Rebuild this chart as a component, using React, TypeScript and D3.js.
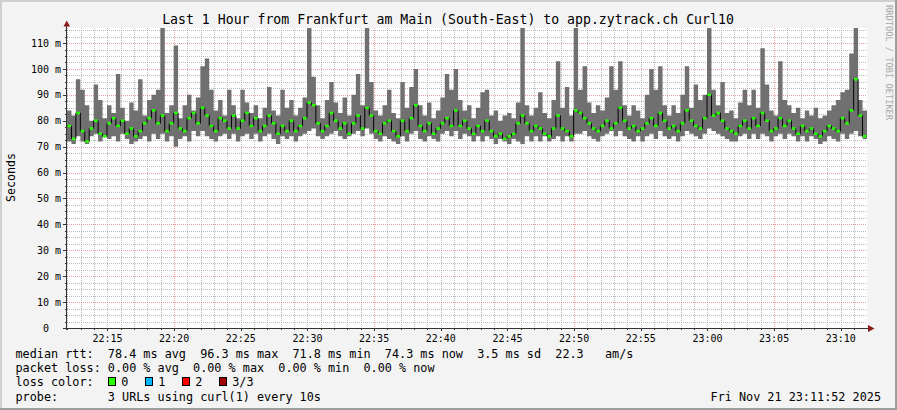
import React from "react";
import * as d3 from "d3";

const TITLE = "Last 1 Hour from Frankfurt am Main (South-East) to app.zytrack.ch Curl10";
const WATERMARK = "RRDTOOL / TOBI OETIKER";
const Y_TITLE = "Seconds";
const START = new Date(2025, 10, 21, 22, 11, 58);
const END = new Date(2025, 10, 21, 23, 11, 58);
const STEP_SECONDS = 20;
const Y_MAX_MS = 115.8;
const yMajorTicks = [0, 10, 20, 30, 40, 50, 60, 70, 80, 90, 100, 110];

// smoke upper edge (ms), one value per 20 s step
const smokeHigh = [
  84, 82, 96, 92, 86, 80, 94, 88, 81, 86,
  83, 98, 85, 80, 87, 84, 96, 82, 88, 90,
  92, 116, 83, 86, 109, 81, 86, 90, 84, 89,
  101, 104, 92, 84, 88, 82, 92, 86, 81, 92,
  87, 83, 86, 81, 85, 93, 84, 82, 92, 85,
  88, 82, 85, 89, 116, 97, 86, 81, 88, 95,
  87, 83, 89, 82, 90, 98, 86, 116, 95, 84,
  82, 86, 92, 83, 81, 95, 85, 93, 100, 86,
  82, 87, 81, 84, 89, 98, 92, 100, 88, 84,
  86, 81, 85, 91, 92, 82, 84, 80, 82, 83,
  81, 87, 116, 86, 82, 85, 91, 83, 81, 88,
  103, 85, 93, 82, 116, 92, 101, 87, 83, 86,
  84, 89, 101, 92, 103, 86, 82, 86, 84, 81,
  90, 100, 92, 101, 86, 82, 86, 83, 90, 101,
  85, 94, 88, 90, 116, 92, 86, 95, 83, 84,
  81, 87, 92, 86, 92, 85, 108, 94, 84, 82,
  103, 88, 86, 83, 85, 81, 84, 82, 85, 81,
  82, 84, 86, 88, 91, 92, 106, 116, 88, 84,
];

// smoke lower edge (ms)
const smokeLow = [
  72, 71, 74, 72, 71, 74, 75, 72, 74, 73,
  74, 72, 75, 73, 71, 72, 73, 74, 72, 75,
  73, 75, 72, 74, 70, 73, 74, 72, 76, 74,
  76, 74, 73, 72, 74, 75, 73, 75, 72, 74,
  75, 73, 75, 72, 74, 75, 73, 71, 74, 73,
  74, 72, 74, 75, 76, 77, 74, 73, 74, 75,
  76, 74, 73, 74, 75, 76, 74, 77, 75, 73,
  72, 74, 73, 72, 71, 74, 72, 75, 76, 73,
  72, 74, 73, 72, 75, 76, 74, 76, 73, 75,
  74, 72, 74, 72, 74, 73, 71, 73, 72, 71,
  73, 72, 71, 74, 72, 74, 72, 74, 72, 73,
  74, 72, 74, 72, 75, 75, 76, 74, 73, 72,
  74, 75, 76, 74, 76, 74, 73, 72, 74, 72,
  74, 75, 73, 76, 74, 73, 74, 72, 74, 76,
  75, 74, 73, 75, 77, 76, 75, 74, 73, 72,
  72, 74, 75, 73, 75, 73, 75, 74, 72, 74,
  75, 73, 75, 74, 72, 74, 72, 74, 73, 71,
  72, 74, 73, 72, 75, 73, 75, 76, 74, 73,
];

// median rtt (ms)
const medianRtt = [
  78, 73, 83, 76, 72, 77, 80, 75, 74, 79,
  81, 78, 80, 75, 77, 74, 76, 79, 81, 84,
  79, 82, 76, 79, 83, 77, 76, 81, 83, 79,
  85, 82, 78, 76, 81, 80, 77, 82, 77, 80,
  83, 78, 81, 76, 78, 82, 79, 75, 78, 76,
  80, 76, 78, 81, 87, 86, 79, 76, 78, 83,
  80, 77, 79, 75, 79, 82, 77, 85, 82, 76,
  75, 79, 80, 76, 74, 80, 76, 81, 86, 78,
  76, 79, 75, 77, 79, 81, 78, 84, 78, 80,
  77, 75, 78, 76, 80, 76, 74, 75, 73, 74,
  75, 79, 82, 79, 76, 78, 77, 75, 74, 77,
  82, 77, 76, 74, 84, 83, 81, 79, 77, 76,
  78, 80, 77, 79, 85, 80, 77, 78, 76, 77,
  79, 81, 78, 83, 80, 77, 78, 76, 79, 84,
  80, 78, 77, 81, 90, 82, 83, 80, 77, 76,
  75, 78, 80, 77, 81, 78, 83, 80, 76, 77,
  81, 78, 80, 77, 75, 78, 76, 77, 75, 74,
  76, 78, 77, 76, 81, 79, 84, 96, 82, 74,
];

const rttStats = ["78.4 ms avg", "96.3 ms max", "71.8 ms min", "74.3 ms now", "3.5 ms sd", "22.3   am/s"];
const lossStats = ["0.00 % avg", "0.00 % max", "0.00 % min", "0.00 % now"];
const lossLabels = ["0", "1", "2", "3/3"];
const lossColors = ["#26ff00", "#00b8ff", "#ff0000", "#a00000"];
const PROBE_TEXT = "3 URLs using curl(1) every 10s";
const TIMESTAMP = "Fri Nov 21 23:11:52 2025";

const W = 897;
const H = 410;
const L = 67, R = 867, T = 28, B = 328;
const MONO = "'DejaVu Sans Mono', monospace";
const nb = (s: string) => s.replace(/ /g, "\u00A0");

export default function App() {
  const x = d3.scaleTime().domain([START, END]).range([L, R]);
  const y = d3.scaleLinear().domain([0, Y_MAX_MS]).range([B, T]);

  const times = medianRtt.map((_, i) => new Date(START.getTime() + i * STEP_SECONDS * 1000));
  const endT = new Date(START.getTime() + medianRtt.length * STEP_SECONDS * 1000);
  const pts = medianRtt.map((m, i) => ({ t: times[i], lo: smokeLow[i], hi: smokeHigh[i], m }));
  const ptsExt = [...pts, { ...pts[pts.length - 1], t: endT }];

  const area = d3
    .area<any>()
    .x((d) => x(d.t))
    .y0((d) => y(d.lo))
    .y1((d) => y(d.hi))
    .curve(d3.curveStepAfter);
  const line = d3
    .line<any>()
    .x((d) => x(d.t))
    .y((d) => y(d.m))
    .curve(d3.curveStepAfter);

  const minorH = d3.range(0, Y_MAX_MS, 2.5).filter((v) => v % 10 !== 0);
  const majorH = yMajorTicks.filter((v) => v > 0);
  const minutes = d3.timeMinute.range(START, END);
  const labelTimes = d3.timeMinute.every(5)!.range(START, END);
  const fmt = d3.timeFormat("%H:%M");
  const px = (v: number) => Math.round(v) + 0.5;

  const gridGray = "rgba(143,143,143,0.6)";
  const gridRed = "rgba(222,80,80,0.55)";
  const axisColor = "#333";
  const arrowColor = "#8b1a1a";
  const legendFont = 11.8;
  const charW = legendFont * 0.602;
  const legendX = 15.5;

  return (
    <div style={{ position: "absolute", left: 0, top: 0 }}>
      <svg width={W} height={H} viewBox={`0 0 ${W} ${H}`} style={{ display: "block" }}>
        <defs>
          <clipPath id="plotclip">
            <rect x={L} y={T} width={R - L} height={B - T} />
          </clipPath>
        </defs>
        <rect x={0} y={0} width={W} height={H} fill="#f3f3f3" />
        {/* frame shades */}
        <rect x={0} y={0} width={W} height={2} fill="#cfcfcf" />
        <rect x={0} y={0} width={2} height={H} fill="#cfcfcf" />
        <rect x={0} y={H - 2} width={W} height={2} fill="#9e9e9e" />
        <rect x={W - 2} y={0} width={2} height={H} fill="#9e9e9e" />

        {/* canvas */}
        <rect x={L} y={T} width={R - L} height={B - T} fill="#ffffff" />

        {/* grid */}
        <g shapeRendering="crispEdges" strokeDasharray="1,1" strokeWidth={1}>
          {minorH.map((v) => (
            <line key={"mh" + v} x1={L} x2={R} y1={px(y(v))} y2={px(y(v))} stroke={gridGray} />
          ))}
          {minutes.map((t) => {
            const isMajor = t.getMinutes() % 15 === 5;
            return (
              <line
                key={"v" + t.getTime()}
                x1={px(x(t))}
                x2={px(x(t))}
                y1={T}
                y2={B}
                stroke={isMajor ? gridRed : gridGray}
              />
            );
          })}
          {majorH.map((v) => (
            <line key={"Mh" + v} x1={L} x2={R} y1={px(y(v))} y2={px(y(v))} stroke={gridRed} />
          ))}
        </g>

        {/* data */}
        <g clipPath="url(#plotclip)">
          <path d={area(ptsExt) || ""} fill="#707070" />
          <path d={line(ptsExt) || ""} fill="none" stroke="#000" strokeWidth={1} />
          {pts.map((d, i) => {
            const x0 = x(d.t);
            const x1 = x(ptsExt[i + 1].t);
            return (
              <rect key={i} x={x0 + 0.4} y={y(d.m) - 1.3} width={x1 - x0 - 0.8} height={2.6} fill="#26ff00" />
            );
          })}
        </g>

        {/* ticks */}
        <g shapeRendering="crispEdges" stroke={axisColor} strokeWidth={1}>
          {minorH.map((v) => (
            <line key={"tm" + v} x1={65} x2={L} y1={px(y(v))} y2={px(y(v))} />
          ))}
          {yMajorTicks.map((v) => (
            <line key={"tM" + v} x1={63} x2={L} y1={px(y(v))} y2={px(y(v))} />
          ))}
          {minutes.map((t) => (
            <line key={"xt" + t.getTime()} x1={px(x(t))} x2={px(x(t))} y1={B} y2={B + 2} />
          ))}
          {labelTimes.map((t) => (
            <line key={"xT" + t.getTime()} x1={px(x(t))} x2={px(x(t))} y1={B} y2={B + 3} />
          ))}
        </g>

        {/* axes */}
        <g shapeRendering="crispEdges">
          <line x1={66.5} x2={66.5} y1={24} y2={B + 2} stroke={axisColor} />
          <line x1={63} x2={870} y1={328.5} y2={328.5} stroke={axisColor} />
        </g>
        <path d="M63.5,26.5 L70,26.5 L66.75,20.5 Z" fill={arrowColor} />
        <path d="M868,325 L868,332 L874.5,328.5 Z" fill={arrowColor} />

        {/* y labels */}
        <g fontFamily={MONO} fontSize={10} fill="#000">
          {yMajorTicks.map((v) =>
            v === 0 ? (
              <text key={"yl" + v} x={61 - 2 * 6.02} y={y(v) + 3.6} textAnchor="end">
                0
              </text>
            ) : (
              <text key={"yl" + v} x={61} y={y(v) + 3.6} textAnchor="end">
                {nb(`${v} m`)}
              </text>
            )
          )}
          {labelTimes.map((t) => (
            <text key={"xl" + t.getTime()} x={x(t)} y={341.5} textAnchor="middle">
              {fmt(t)}
            </text>
          ))}
        </g>

        {/* title */}
        <text x={448} y={23.5} textAnchor="middle" fontFamily={MONO} fontSize={13.2} fill="#000">
          {nb(TITLE)}
        </text>

        {/* y axis title */}
        <text
          transform="translate(14.5,177.5) rotate(-90)"
          textAnchor="middle"
          fontFamily={MONO}
          fontSize={11.6}
          fill="#000"
        >
          {Y_TITLE}
        </text>

        {/* watermark */}
        <text transform="translate(885.5,5) rotate(90)" fontFamily={MONO} fontSize={8.7} fill="#a8a8a8">
          {nb(WATERMARK)}
        </text>

        {/* legend */}
        <g fontFamily={MONO} fontSize={legendFont} fill="#000">
          <text x={legendX} y={357.5}>
            {nb("median rtt:  " + rttStats.join("  "))}
          </text>
          <text x={legendX} y={371.5}>
            {nb("packet loss: " + lossStats.join("  "))}
          </text>
          <text x={legendX} y={386}>
            {nb("loss color:")}
          </text>
          {lossLabels.map((lab, i) => {
            const bx = 108.5 + i * 37;
            return (
              <g key={lab}>
                <rect x={bx} y={377.5} width={7} height={8} fill={lossColors[i]} stroke="#000" strokeWidth={1} shapeRendering="crispEdges" />
                <text x={bx + 12.7} y={386}>
                  {lab}
                </text>
              </g>
            );
          })}
          <text x={legendX} y={400.5}>
            {"probe:"}
          </text>
          <text x={legendX + 13 * charW} y={400.5}>
            {nb(PROBE_TEXT)}
          </text>
          <text x={881} y={400.5} textAnchor="end">
            {nb(TIMESTAMP)}
          </text>
        </g>
      </svg>
    </div>
  );
}
